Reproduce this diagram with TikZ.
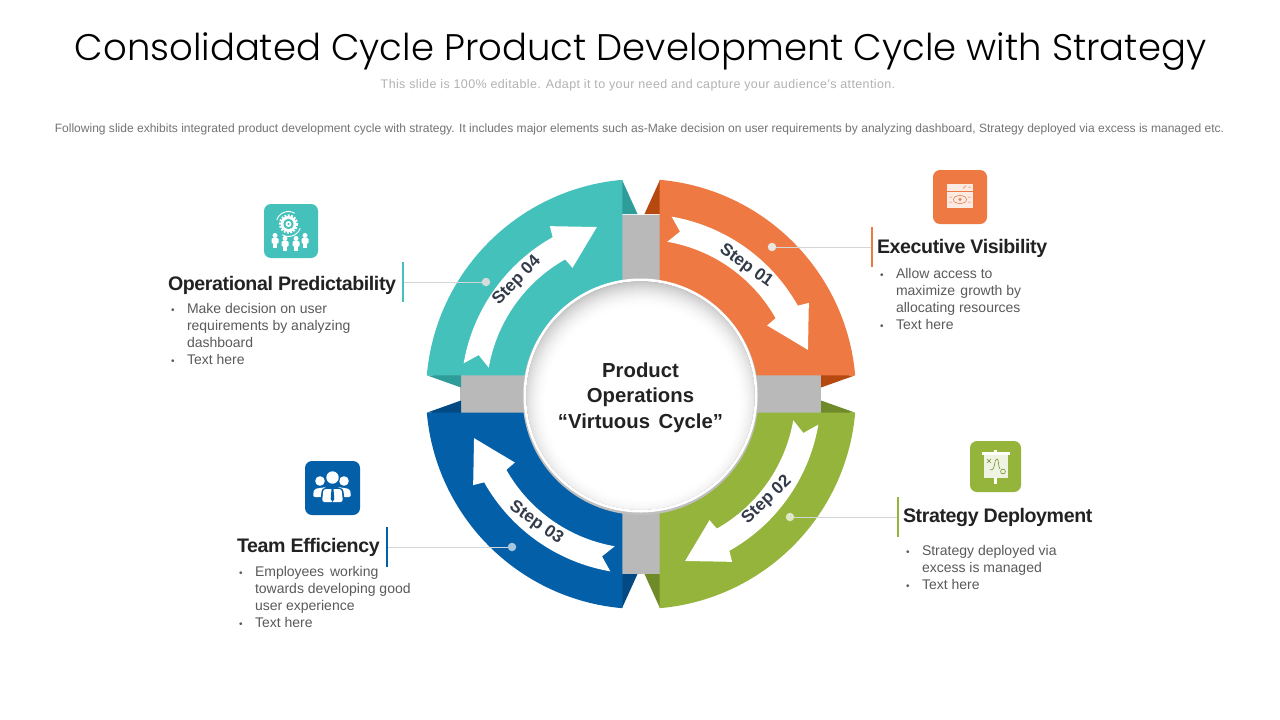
\documentclass[tikz,border=0pt]{standalone}
\usepackage{fontspec}
\setmainfont{Liberation Sans}
\newfontfamily\titlefont{Poppins Light}
\definecolor{tealc}{HTML}{45C1BC}\definecolor{teald}{HTML}{2E9C98}
\definecolor{orac}{HTML}{EE7942}\definecolor{orad}{HTML}{B5490F}
\definecolor{grec}{HTML}{94B43B}\definecolor{gred}{HTML}{6F8A28}
\definecolor{bluc}{HTML}{035FA8}\definecolor{blud}{HTML}{034A85}
\definecolor{bandc}{HTML}{B9B9B9}\definecolor{stepc}{HTML}{333B4A}
\definecolor{bodyc}{HTML}{5A5A5A}\definecolor{headc}{HTML}{222222}
\definecolor{leadc}{HTML}{D2D6D8}
\tikzset{
 txt/.style={inner sep=0pt,outer sep=0pt},
 headt/.style={txt,anchor=west,text=headc,font=\fontsize{19.6}{23}\selectfont\bfseries\addfontfeature{LetterSpace=-2}},
 bodyt/.style={txt,anchor=west,align=left,text=bodyc,font=\fontsize{14}{16.7}\selectfont},
 stept/.style={txt,text=stepc,font=\fontsize{17.2}{20}\selectfont\bfseries},
 dotn/.style={circle,inner sep=0pt,minimum size=8.5pt,draw=none},
 leadl/.style={leadc,line width=.8pt},
 barl/.style={line width=1.1pt},
 iconbox/.style={rounded corners=7pt},
}
\newcommand{\bl}{\makebox[16pt][l]{\fontsize{10}{10}\selectfont\textbullet}}
\newcommand{\ind}{\hspace*{16pt}}
\newcommand{\petal}[4]{%
 \begin{scope}[shift={(641,394)},x=1pt,y=1pt,xscale=#1,yscale=#2]
  \fill[#4] (-19,214.2) -- (-3.5,180) -- (-19,180) -- cycle;
  \fill[#4] (-214.2,18.7) -- (-180,6.5) -- (-180,19) -- cycle;
  \fill[#3] (95:215) arc[start angle=95,end angle=175,radius=215] -- (-18.7,18.7) -- cycle;
 \end{scope}}
\newcommand{\flow}[1]{%
 \begin{scope}[shift={(641,394)},x=1pt,y=1pt,rotate=#1]
  \fill[white] (170.2:180) arc[start angle=170.2,end angle=119.4,radius=180] -- (118.5:191) -- (104.8:172.7) -- (118.5:143.6) -- (119.4:154.5) arc[start angle=119.4,end angle=170.2,radius=154.5] -- (166.5:167) -- cycle;
 \end{scope}}
\begin{document}
\begin{tikzpicture}[x=1pt,y=-1pt]
\useasboundingbox[fill=white] (0,0) rectangle (1280,720);
% header
\node[txt,font=\titlefont\fontsize{37}{40}\selectfont,text=black] (title) at (640.5,52) {Consolidated Cycle Product Development Cycle with Strategy};
\node[txt,font=\fontsize{12.5}{14}\selectfont\addfontfeature{LetterSpace=3},text=black!30] (sub) at (638,85) {This slide is 100\% editable. Adapt it to your need and capture your audience's attention.};
\node[txt,font=\fontsize{12.04}{14}\selectfont,text=black!55] (desc) at (639.5,129) {Following slide exhibits integrated product development cycle with strategy. It includes major elements such as-Make decision on user requirements by analyzing dashboard, Strategy deployed via excess is managed etc.};
% cross
\fill[bandc] (622,214.5) rectangle (660,574);
\fill[bandc] (460,375) rectangle (821,413);
% petals
\petal{1}{1}{tealc}{teald}
\petal{-1}{1}{orac}{orad}
\petal{-1}{-1}{grec}{gred}
\petal{1}{-1}{bluc}{blud}
% arrows
\flow{0}\flow{-90}\flow{-180}\flow{-270}
% disc
\fill[black!25] (640.5,397) circle[radius=118];
\fill[white] (640.5,395.5) circle[radius=117];
\begin{scope}
\clip (640.5,395.5) circle[radius=114];
\foreach \r in {126,125,...,95}{
 \pgfmathsetmacro{\shd}{27*((\r-95)/29)^2}
 \fill[black!\shd!white] (642,403) circle[radius=\r];
}
\end{scope}
\node[txt,align=center,text=headc,font=\fontsize{20.3}{25.5}\selectfont\bfseries] (hub) at (640.5,397.5) {Product\\Operations\\“Virtuous\hspace{3pt} Cycle”};
% step labels
\node[stept,rotate=-36] (s1) at (746,266) {Step 01};
\node[stept,rotate=44] (s2) at (767,500) {Step 02};
\node[stept,rotate=-35] (s3) at (536,523) {Step 03};
\node[stept,rotate=46] (s4) at (517,281) {Step 04};
% leaders
\node[dotn,fill=orange!30!black!12!white] (d1) at (772,247) {};
\node[dotn,fill=grec!30!white] (d2) at (790,517) {};
\node[dotn,fill=bluc!35!white] (d3) at (512,547) {};
\node[dotn,fill=tealc!30!black!18!white] (d4) at (486,282) {};
\coordinate (b1) at (872,247); \coordinate (b2) at (898,517); \coordinate (b3) at (387,547); \coordinate (b4) at (403,282);
\draw[leadl] (d1) -- (b1); \draw[leadl] (d2) -- (b2); \draw[leadl] (d3) -- (b3); \draw[leadl] (d4) -- (b4);
\draw[barl,orac] ([yshift=-20pt]b1) -- ([yshift=20pt]b1);
\draw[barl,grec] ([yshift=-20pt]b2) -- ([yshift=20pt]b2);
\draw[barl,bluc] ([yshift=-20pt]b3) -- ([yshift=20pt]b3);
\draw[barl,tealc] ([yshift=-20pt]b4) -- ([yshift=20pt]b4);
% texts
\node[headt] (h1) at (877,248.5) {Executive Visibility};
\node[bodyt] (t1) at (880,299) {\bl Allow access to\\\ind maximize\hspace{1.5pt} growth by\\\ind allocating resources\\\bl Text here};
\node[headt] (h2) at (903,517.5) {Strategy Deployment};
\node[bodyt] (t2) at (906,567.5) {\bl Strategy deployed via\\\ind excess is managed\\\bl Text here};
\node[headt] (h3) at (237,547.5) {Team Efficiency};
\node[bodyt] (t3) at (239,597) {\bl Employees\hspace{2pt} working\\\ind towards developing good\\\ind user experience\\\bl Text here};
\node[headt] (h4) at (168,285.5) {Operational Predictability};
\node[bodyt] (t4) at (171,334) {\bl Make decision on user\\\ind requirements by analyzing\\\ind dashboard\\\bl Text here};
% icon 1 orange
\fill[orac,iconbox] (933,170) rectangle (987,224);
\fill[white!85!orac] (947,183.5) rectangle (973,208);
\draw[orac,line width=.6pt] (947,191) -- (973,191);
\draw[orac,line width=.6pt] (960,199.5) ellipse[x radius=6.5,y radius=4];
\fill[orac] (960,199.5) circle[radius=1.6];
\draw[orac,line width=.5pt] (949,197) -- (952,197) (949,202) -- (952,202) (968,197) -- (971,197) (968,202) -- (971,202) (963,188.5) -- (966,185.5) (968,187) -- (971,187);
% icon 4 teal
\fill[tealc,iconbox] (264,204) rectangle (318,258);
\draw[white,line width=2pt,dash pattern=on 1.8pt off 1.5pt] (288.5,224) circle[radius=8.6];
\fill[white] (288.5,224) circle[radius=8];
\fill[tealc] (288.5,224) circle[radius=5.2];
\fill[white] (288.5,224) circle[radius=3];
\fill[tealc] (288.5,224) circle[radius=1.2];
\draw[white,line width=.9pt] (288.5,224) ++(200:12.5) arc[start angle=200,end angle=300,radius=12.5];
\draw[white,line width=.9pt] (288.5,224) ++(20:12.5) arc[start angle=20,end angle=120,radius=12.5];
\foreach \px/\py in {275/240,285/243,296/243,305/240}{
 \fill[white] (\px,\py-4.5) circle[radius=2.5];
 \fill[white,rounded corners=1pt] (\px-3.5,\py-1.8) rectangle (\px+3.5,\py+3.5);
 \fill[white] (\px-1.8,\py+3) rectangle (\px+1.8,\py+7.5);
}
% icon 3 blue
\fill[bluc,iconbox] (305,461) rectangle (360,515);
\fill[white] (320,481) circle[radius=4.8]; \fill[white] (344,481) circle[radius=4.8];
\fill[white,rounded corners=2pt] (313,497) -- (314,489) -- (326,487) -- (327,497) -- cycle;
\fill[white,rounded corners=2pt] (351,497) -- (350,489) -- (338,487) -- (337,497) -- cycle;
\fill[bluc] (332.5,477.5) circle[radius=7.5];
\fill[white] (332.5,477.5) circle[radius=6.2];
\fill[bluc,rounded corners=3pt] (320,503) -- (322,488) -- (343,488) -- (345,503) -- cycle;
\fill[white,rounded corners=2.5pt] (322,502) -- (323.5,489) -- (341.5,489) -- (343,502) -- cycle;
\fill[bluc] (331.5,489) -- (333.5,489) -- (334.3,499) -- (332.5,502) -- (330.7,499) -- cycle;
% icon 2 green
\fill[grec,iconbox] (970,441) rectangle (1021,492);
\fill[white] (994,449.5) rectangle (997,453);
\fill[white] (982,452) rectangle (1010,455);
\fill[white!85!grec] (984,455) rectangle (1008,478);
\fill[white] (994,478) rectangle (997,484);
\draw[gred,line width=.6pt] (987,459) -- (991,463) (991,459) -- (987,463);
\draw[gred,line width=.6pt] (990,470) .. controls (997,470) and (993,459) .. (997,459) .. controls (999,459) and (998,467) .. (1000,469);
\draw[gred,line width=.6pt] (1003,471.5) circle[radius=2.4];
\end{tikzpicture}
\end{document}
